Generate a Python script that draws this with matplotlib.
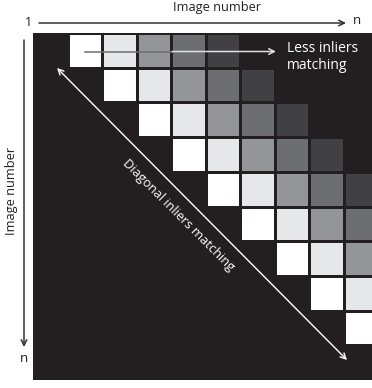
import numpy as np
import matplotlib
matplotlib.use("Agg")
import matplotlib.pyplot as plt
from matplotlib.colors import ListedColormap, BoundaryNorm

plt.rcParams['font.family'] = ['Open Sans', 'DejaVu Sans']

# ---- data ----
n_rows = 10
n_cols = 11
# inlier level by offset from the diagonal (0 = diagonal cell)
offset_levels = [5, 4, 3, 2, 1]
level_colors = ['#231f20', '#414042', '#6d6e71', '#939598', '#e6e7e8', '#ffffff']
axis_label = "Image number"
start_label = "1"
end_label = "n"
less_label = "Less inliers\nmatching"
diag_label = "Diagonal inliers matching"

M = np.zeros((n_rows, n_cols))
for r in range(n_rows):
    for k, lv in enumerate(offset_levels):
        c = r + 1 + k
        if c < n_cols:
            M[r, c] = lv

W, H = 372, 388
fig = plt.figure(figsize=(W / 100, H / 100), dpi=100)
fig.patch.set_facecolor('white')

ax = fig.add_axes([33 / W, (H - 380) / H, (372 - 33) / W, (380 - 33) / H])
cmap = ListedColormap(level_colors)
norm = BoundaryNorm(np.arange(-0.5, 6.5, 1), cmap.N)
ax.pcolormesh(np.arange(n_cols + 1), np.arange(n_rows + 1), M, cmap=cmap, norm=norm,
              edgecolors='#231f20', linewidth=1.0)
ax.set_facecolor('#231f20')
ax.set_xlim(0, 339 / 34.5)
ax.set_ylim(n_rows, 0)
ax.set_xticks([]); ax.set_yticks([])
for s in ax.spines.values():
    s.set_visible(False)

ov = fig.add_axes([0, 0, 1, 1])
ov.set_xlim(0, W); ov.set_ylim(H, 0)
ov.axis('off')
ov.patch.set_alpha(0)

txt = '#231f20'
# top axis arrow
ov.annotate('', xy=(346, 23), xytext=(39, 23),
            arrowprops=dict(arrowstyle='->', color='#333333', lw=1.1, shrinkA=0, shrinkB=0,
                            mutation_scale=10))
ov.text(28, 23, start_label, ha='center', va='center', fontsize=9, color=txt)
ov.text(357, 21, end_label, ha='center', va='center', fontsize=9.5, color=txt)
ov.text(217, 8, axis_label, ha='center', va='center', fontsize=9.2, color=txt)

# left axis arrow
ov.annotate('', xy=(24, 347), xytext=(24, 40),
            arrowprops=dict(arrowstyle='->', color='#333333', lw=1.1, shrinkA=0, shrinkB=0,
                            mutation_scale=10))
ov.text(24, 358, end_label, ha='center', va='center', fontsize=9.5, color=txt)
ov.text(12, 191, axis_label, ha='center', va='center', fontsize=9.2, color=txt, rotation=90)

# row arrow: less inliers
ov.plot([85, 172], [51.5, 51.5], color='#6d6e71', lw=1.1)
ov.annotate('', xy=(276, 51.5), xytext=(172, 51.5),
            arrowprops=dict(arrowstyle='->', color='#e0e0e0', lw=1.1, shrinkA=0, shrinkB=0,
                            mutation_scale=10))
ov.text(287, 57, less_label, ha='left', va='center', fontsize=10, color='white',
        linespacing=1.1)

# diagonal arrow
ov.annotate('', xy=(347, 360), xytext=(57, 68),
            arrowprops=dict(arrowstyle='<->', color='white', lw=1.0, shrinkA=0, shrinkB=0,
                            mutation_scale=10))
ov.text(178, 215, diag_label, ha='center', va='center', fontsize=9.3, color='white',
        rotation=-45, rotation_mode='anchor')

fig.savefig('out.png', dpi=100)
